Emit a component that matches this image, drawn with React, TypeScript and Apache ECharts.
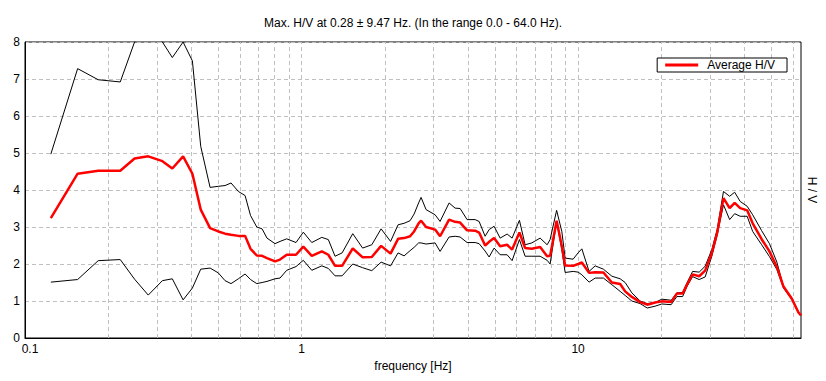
import React, { useEffect, useRef } from "react";
import * as echarts from "echarts";

const freqs = [
  0.124, 0.155, 0.184, 0.221, 0.249, 0.279, 0.314, 0.341, 0.373, 0.403,
  0.432, 0.467, 0.5, 0.529, 0.556, 0.591, 0.625, 0.654, 0.689, 0.72,
  0.75, 0.802, 0.836, 0.884, 0.955, 1.015, 1.089, 1.184, 1.25, 1.322,
  1.402, 1.532, 1.663, 1.795, 1.94, 2.099, 2.234, 2.349, 2.469, 2.553,
  2.651, 2.706, 2.821, 3.041, 3.17, 3.417, 3.592, 3.745, 3.969, 4.244,
  4.387, 4.612, 4.768, 4.971, 5.226, 5.539, 5.774, 6.137, 6.435, 6.804,
  7.291, 7.729, 7.923, 8.365, 8.735, 8.98, 9.596, 10.0, 10.32, 10.96,
  11.53, 12.35, 13.25, 14.2, 14.8, 15.65, 16.77, 17.78, 19.0, 20.09,
  21.71, 22.76, 23.89, 24.8, 25.96, 27.41, 28.81, 30.46, 31.84, 33.56,
  35.33, 36.84, 38.57, 40.88, 42.8, 46.12, 49.22, 52.35, 55.31, 59.31,
  62.66, 64.0,
];

const upperHV = [
  4.97, 7.28, 6.98, 6.92, 8.0, 8.5, 8.0, 7.58, 8.0, 7.49,
  5.18, 4.07, 4.1, 4.12, 4.19, 3.96, 3.85, 3.31, 3.0, 2.95,
  2.7, 2.55, 2.61, 2.68, 2.58, 2.86, 2.58, 2.72, 2.66, 2.21,
  2.3, 2.82, 2.43, 2.52, 2.95, 2.61, 3.06, 3.1, 3.17, 3.35,
  3.65, 3.8, 3.47, 3.33, 3.15, 3.65, 3.51, 3.5, 3.2, 3.2,
  3.15, 2.75, 2.93, 3.02, 2.7, 2.81, 2.7, 3.18, 2.52, 2.57,
  2.7, 2.52, 2.66, 3.45, 2.88, 2.16, 2.13, 2.3, 2.41, 1.8,
  1.95, 1.86, 1.67, 1.6, 1.5, 1.22, 1.0, 0.93, 0.96, 1.05,
  1.02, 1.22, 1.23, 1.5, 1.8, 1.78, 1.94, 2.39, 2.93, 3.96,
  3.83, 3.94, 3.69, 3.56, 3.33, 2.9, 2.55, 2.05, 1.39, 1.08,
  0.69, 0.63,
];

const averageHV = [
  3.24, 4.44, 4.52, 4.52, 4.85, 4.91, 4.78, 4.58, 4.91, 4.44,
  3.47, 2.97, 2.88, 2.82, 2.79, 2.76, 2.76, 2.41, 2.23, 2.22,
  2.16, 2.07, 2.12, 2.25, 2.25, 2.47, 2.22, 2.34, 2.25, 1.95,
  1.95, 2.42, 2.18, 2.19, 2.49, 2.28, 2.68, 2.7, 2.75, 2.88,
  3.1, 3.17, 3.0, 2.93, 2.75, 3.2, 3.14, 3.12, 2.91, 2.9,
  2.85, 2.5, 2.6, 2.7, 2.48, 2.52, 2.39, 2.85, 2.43, 2.41,
  2.46, 2.21, 2.22, 3.17, 2.48, 1.96, 1.95, 2.0, 2.04, 1.76,
  1.78, 1.77, 1.5, 1.46, 1.26, 1.11, 0.97, 0.9, 0.96, 0.99,
  0.97, 1.2, 1.2, 1.45, 1.72, 1.67, 1.82, 2.3, 2.84, 3.78,
  3.51, 3.65, 3.51, 3.45, 3.1, 2.67, 2.34, 1.92, 1.39, 1.06,
  0.69, 0.61,
];

const lowerHV = [
  1.51, 1.58, 2.09, 2.12, 1.59, 1.16, 1.55, 1.6, 1.03, 1.35,
  1.86, 1.89, 1.76, 1.55, 1.47, 1.6, 1.73, 1.58, 1.47, 1.5,
  1.53, 1.6, 1.62, 1.83, 1.93, 2.1, 1.83, 1.95, 1.88, 1.68,
  1.68, 2.0, 1.9, 1.82, 2.05, 1.95, 2.3, 2.22, 2.36, 2.45,
  2.57, 2.57, 2.54, 2.57, 2.34, 2.73, 2.75, 2.73, 2.58, 2.58,
  2.55, 2.35, 2.19, 2.43, 2.25, 2.25, 2.09, 2.66, 2.21, 2.21,
  2.21, 2.1, 2.0, 3.15, 2.39, 1.77, 1.8, 1.78, 1.71, 1.51,
  1.62, 1.62, 1.44, 1.26, 1.15, 1.0, 0.93, 0.81, 0.86, 0.92,
  0.9, 1.12, 1.12, 1.4, 1.66, 1.58, 1.65, 2.21, 2.78, 3.6,
  3.2, 3.36, 3.29, 3.29, 2.88, 2.52, 2.2, 1.85, 1.35, 1.04,
  0.68, 0.61,
];

const verticalGridFreqs = [
  0.2, 0.3, 0.4, 0.5, 0.6, 0.7, 0.8, 0.9, 1, 2, 3, 4, 5, 6, 7, 8, 9, 10,
  20, 30, 40, 50, 60,
];

const titleText = "Max. H/V at 0.28 \u00b1 9.47 Hz. (In the range 0.0 - 64.0 Hz).";

const FONT = "'Liberation Sans', Arial, sans-serif";

export default function App() {
  const ref = useRef<HTMLDivElement>(null);

  useEffect(() => {
    if (!ref.current) return;
    const chart = echarts.init(ref.current, undefined, { renderer: "svg" });
    const pairs = (vals: number[]) => freqs.map((f, i) => [f, vals[i]]);
    const gridLine = { color: "#c0c0c0", width: 1, type: [4, 3] as any };

    chart.setOption({
      animation: false,
      backgroundColor: "#ffffff",
      textStyle: { fontFamily: FONT, fontSize: 12, color: "#000" },
      title: {
        text: titleText,
        left: "center",
        top: 12,
        textStyle: { fontFamily: FONT, fontSize: 12, fontWeight: "normal", color: "#000" },
      },
      legend: {
        data: ["Average H/V"],
        right: 39,
        top: 58,
        icon: "rect",
        itemWidth: 33,
        itemHeight: 3,
        padding: [1, 12, 1, 8],
        borderColor: "#000",
        borderWidth: 1,
        borderRadius: 0,
        backgroundColor: "#fff",
        textStyle: { fontFamily: FONT, fontSize: 12, color: "#000", padding: [0, 0, 0, 4] },
      },
      grid: {
        left: 25,
        right: 25,
        top: 42,
        bottom: 43,
        show: true,
        borderColor: "#000",
        borderWidth: 1,
        backgroundColor: "#fff",
      },
      graphic: [
        {
          type: "text",
          x: 812,
          y: 190,
          rotation: -Math.PI / 2,
          style: {
            text: "H / V",
            fontFamily: FONT,
            fontSize: 12,
            fill: "#000",
            textAlign: "center",
            textVerticalAlign: "middle",
          },
        },
      ],
      xAxis: {
        type: "log",
        logBase: 10,
        min: 0.1,
        max: 64,
        name: "frequency [Hz]",
        nameLocation: "middle",
        nameGap: 15,
        nameTextStyle: { fontFamily: FONT, fontSize: 12, color: "#000" },
        axisLine: { show: true, lineStyle: { color: "#000", width: 1 } },
        axisTick: { show: false },
        splitLine: { show: false },
        axisLabel: {
          color: "#000",
          fontFamily: FONT,
          fontSize: 12,
          margin: 5,
          rich: {
            first: { fontFamily: FONT, fontSize: 12, color: "#000", padding: [0, 0, 0, 10] },
          },
          formatter: (v: number) => {
            const l = Math.log10(v);
            const r = Math.round(l);
            if (Math.abs(l - r) > 1e-6) return "";
            if (r < 0) return "{first|" + Math.pow(10, r).toFixed(-r) + "}";
            return String(Math.pow(10, r));
          },
        },
      },
      yAxis: {
        type: "value",
        min: 0,
        max: 8,
        interval: 1,
        axisLine: { show: true, lineStyle: { color: "#000", width: 1 } },
        axisTick: { show: false },
        axisLabel: { color: "#000", fontFamily: FONT, fontSize: 12, margin: 5 },
        splitLine: { show: true, lineStyle: gridLine },
      },
      series: [
        {
          name: "upper",
          type: "line",
          data: pairs(upperHV),
          showSymbol: false,
          symbol: "none",
          lineStyle: { color: "#000", width: 1 },
          itemStyle: { color: "#000" },
          z: 3,
          markLine: {
            silent: true,
            symbol: "none",
            z: 1,
            label: { show: false },
            lineStyle: gridLine,
            data: verticalGridFreqs.map((f) => ({ xAxis: f })),
          },
        },
        {
          name: "lower",
          type: "line",
          data: pairs(lowerHV),
          showSymbol: false,
          symbol: "none",
          lineStyle: { color: "#000", width: 1 },
          itemStyle: { color: "#000" },
          z: 3,
        },
        {
          name: "Average H/V",
          type: "line",
          data: pairs(averageHV),
          showSymbol: false,
          symbol: "none",
          lineStyle: { color: "#ff0000", width: 2.5 },
          itemStyle: { color: "#ff0000" },
          z: 4,
        },
      ],
    });
    return () => chart.dispose();
  }, []);

  return (
    <div
      ref={ref}
      style={{ position: "absolute", left: 0, top: 0, width: 826, height: 381, background: "#fff" }}
    />
  );
}
